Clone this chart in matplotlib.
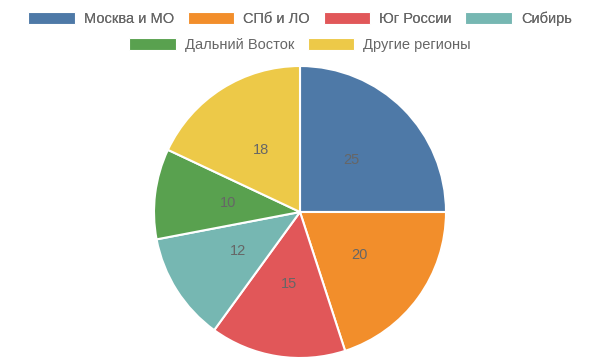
import matplotlib
matplotlib.use("Agg")
import matplotlib.pyplot as plt
from matplotlib.patches import Patch

plt.rcParams['font.family'] = ['Liberation Sans', 'DejaVu Sans']

regions = ['Москва и МО', 'СПб и ЛО', 'Юг России', 'Сибирь', 'Дальний Восток', 'Другие регионы']
shares = [25, 20, 15, 12, 10, 18]
colors = ['#4e79a7', '#f28e2b', '#e15759', '#76b7b2', '#59a14f', '#edc948']

fig = plt.figure(figsize=(6, 3.6), dpi=100)
# pie centre at (300, 212) px, radius 146 px
ax = fig.add_axes([(300 - 146) / 600, (360 - 212 - 146) / 360, 292 / 600, 292 / 360])
wedges, texts = ax.pie(shares, colors=colors, startangle=90, counterclock=False,
                       labels=[str(v) for v in shares], labeldistance=0.5,
                       wedgeprops=dict(edgecolor='white', linewidth=1.5),
                       textprops=dict(color='#666666', fontsize=10.5, ha='center', va='center'))
ax.set_xlim(-1, 1)
ax.set_ylim(-1, 1)
ax.set_aspect('equal')
ax.axis('off')

handles = [Patch(facecolor=c, edgecolor='white', linewidth=0.8) for c in colors]
common = dict(frameon=False, fontsize=10.5, handlelength=3.2, handleheight=0.95,
              handletextpad=0.6, columnspacing=0.95, labelcolor='#666666',
              borderpad=0, borderaxespad=0)
leg1 = fig.legend(handles[:4], regions[:4], ncol=4, loc='center',
                  bbox_to_anchor=(0.5, 1 - 19 / 360), **common)
fig.add_artist(leg1)
leg2 = fig.legend(handles[4:], regions[4:], ncol=2, loc='center',
                  bbox_to_anchor=(0.5, 1 - 45 / 360), **common)

fig.savefig('out.png', dpi=100)
